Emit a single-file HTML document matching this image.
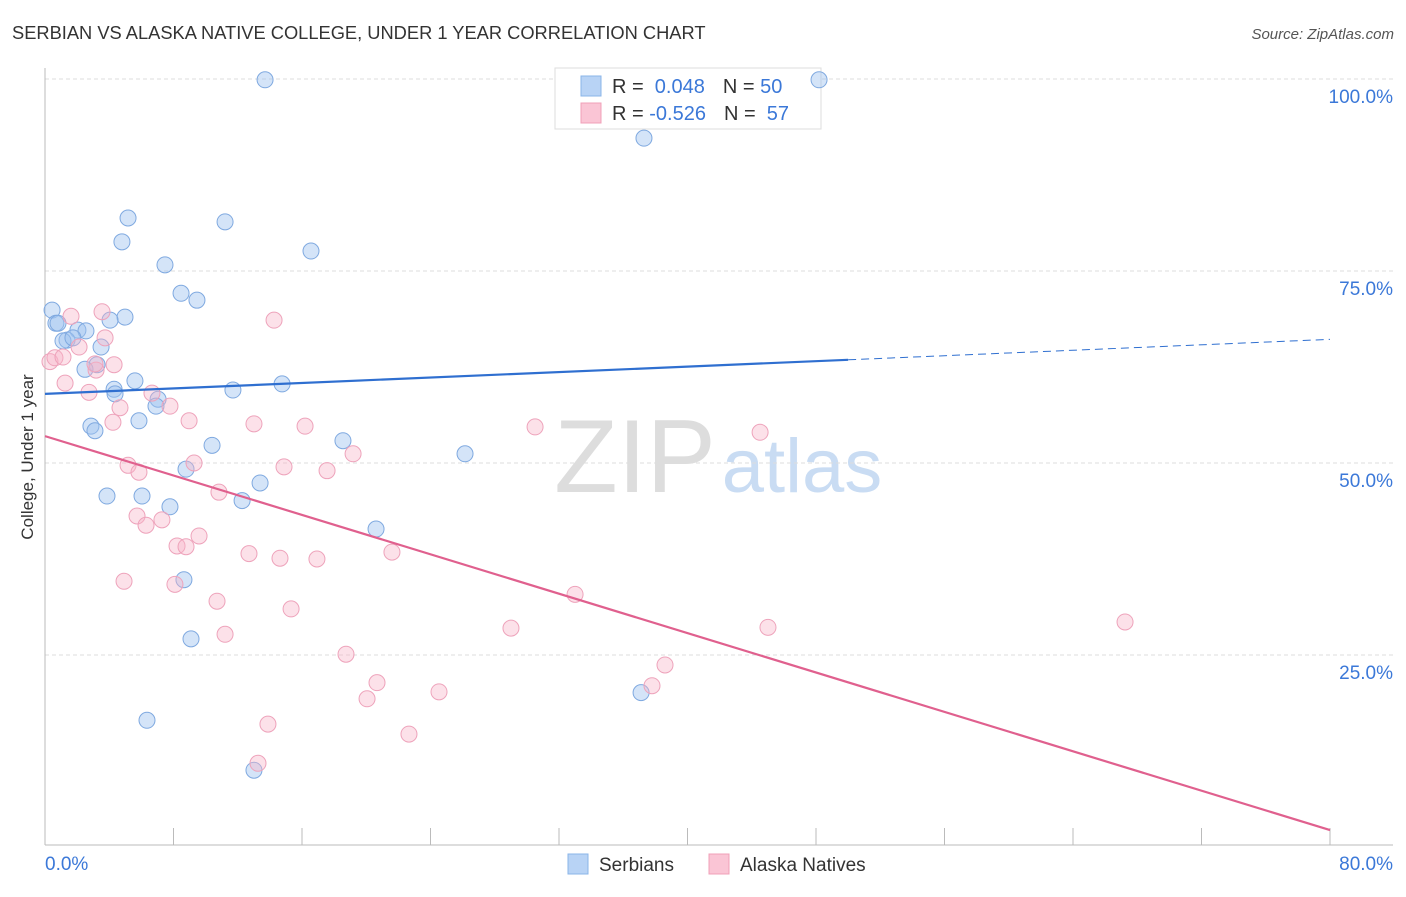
<!DOCTYPE html>
<html><head><meta charset="utf-8"><style>
body{margin:0;background:#fff;font-family:"Liberation Sans",sans-serif;}
svg text{font-family:"Liberation Sans",sans-serif;}
</style></head><body>
<svg id="chart" width="1406" height="892" xmlns="http://www.w3.org/2000/svg">
<text x="12" y="39" font-size="18.3" fill="#333">SERBIAN VS ALASKA NATIVE COLLEGE, UNDER 1 YEAR CORRELATION CHART</text>
<text x="1394" y="39" font-size="15" fill="#555" text-anchor="end" font-style="italic">Source: ZipAtlas.com</text>
<text x="33" y="457" font-size="17" fill="#333" text-anchor="middle" transform="rotate(-90 33 457)">College, Under 1 year</text>
<g><text x="635" y="492" font-size="104" fill="#ddd" font-family="Liberation Serif" text-anchor="middle">ZIP</text><text x="802" y="492" font-size="76" fill="#c9dcf3" text-anchor="middle">atlas</text></g>
<g id="grid"></g><g id="axes"></g>
<g>
<rect x="555" y="68" width="266" height="61" fill="#fff" stroke="#ddd"/>
<rect x="581" y="76" width="20" height="20" fill="#b8d3f5" stroke="#8ab4e8"/>
<rect x="581" y="103" width="20" height="20" fill="#fac5d5" stroke="#f0a0b8"/>
<text x="612" y="93" font-size="20" fill="#333">R = <tspan fill="#3b78d8">&#160;0.048</tspan><tspan dx="18">N = </tspan><tspan fill="#3b78d8">50</tspan></text>
<text x="612" y="120" font-size="20" fill="#333">R = <tspan fill="#3b78d8">-0.526</tspan><tspan dx="18">N = </tspan><tspan fill="#3b78d8">&#160;57</tspan></text>
</g>
<g id="marks"></g>
<g>
<rect x="568" y="854" width="20" height="20" fill="#b8d3f5" stroke="#8ab4e8"/>
<text x="599" y="871" font-size="19" fill="#333">Serbians</text>
<rect x="709" y="854" width="20" height="20" fill="#fac5d5" stroke="#f0a0b8"/>
<text x="740" y="871" font-size="19" fill="#333">Alaska Natives</text>
</g>
</svg>
<script>
const blueX=[13.70,48.19,37.29,5.17,11.21,4.79,16.56,7.47,8.47,9.46,0.44,4.98,4.05,0.68,2.05,2.55,1.37,1.12,3.49,3.24,2.49,5.60,14.76,4.30,4.36,11.70,7.04,6.91,5.85,2.86,3.11,18.55,10.40,26.15,8.78,13.39,3.86,6.04,7.78,12.27,20.61,8.65,9.09,37.11,6.35,13.01,0.81,1.74];
const blueY=[99.9,99.9,92.3,81.9,81.4,78.8,77.6,75.8,72.1,71.2,69.9,69.0,68.6,68.2,67.3,67.2,66.0,65.9,65.1,62.8,62.2,60.7,60.3,59.6,59.0,59.5,58.3,57.4,55.5,54.8,54.2,52.9,52.3,51.2,49.2,47.4,45.7,45.7,44.3,45.1,41.4,34.8,27.1,20.1,16.5,10.0,68.2,66.3];
const pinkX=[0.31,0.62,1.62,3.55,2.12,1.25,3.18,3.74,2.74,4.30,14.26,4.67,6.66,7.78,4.23,8.97,13.01,16.19,30.51,44.52,19.18,5.17,5.85,9.28,14.88,17.56,10.83,5.73,7.28,6.29,9.59,8.22,8.78,12.70,14.63,16.93,21.60,4.92,8.09,10.71,15.32,33.00,29.01,45.01,67.24,11.21,18.74,38.60,37.79,20.67,24.53,20.05,13.88,22.66,13.26,1.12,3.11];
const pinkY=[63.2,63.7,69.1,69.7,65.1,60.4,62.1,66.3,59.2,62.8,68.6,57.2,59.1,57.4,55.3,55.5,55.1,54.8,54.7,54.0,51.2,49.7,48.8,50.0,49.5,49.0,46.2,43.1,42.6,41.9,40.5,39.2,39.1,38.2,37.6,37.5,38.4,34.6,34.2,32.0,31.0,32.9,28.5,28.6,29.3,27.7,25.1,23.7,21.0,21.4,20.2,19.3,16.0,14.7,10.9,63.8,62.9];
const blueTrend=[59.0,66.1], blueSolidEnd=50;
const pinkTrend=[53.5,2.2];
const yTicks=[25,50,75,100];
const yTickLabels=["25.0%","50.0%","75.0%","100.0%"];
const xTicks=[0,8,16,24,32,40,48,56,64,72,80];
const NS="http://www.w3.org/2000/svg";
const sx=v=>45+v/80*1285, sy=v=>847-v*7.68;
function mk(tag,attrs,parent){const e=document.createElementNS(NS,tag);for(const k in attrs)e.setAttribute(k,attrs[k]);document.getElementById(parent).appendChild(e);return e;}
yTicks.forEach((t,i)=>{
 const g=mk('line',{x1:45,x2:1393,y1:sy(t),y2:sy(t),stroke:'#ddd','stroke-dasharray':'4,3'},'grid');
 
 
 const l=mk('text',{x:1393,y:sy(t)+24,'font-size':19,fill:'#3b78d8','text-anchor':'end'},'grid');l.textContent=yTickLabels[i];
 
 
});
const ya=mk('line',{x1:45,x2:45,y1:68,y2:845,stroke:'#bbb'},'axes');


const xa=mk('line',{x1:45,x2:1393,y1:845,y2:845,stroke:'#bbb'},'axes');


xTicks.forEach(t=>{const k=mk('line',{x1:sx(t),x2:sx(t),y1:828,y2:845,stroke:'#bbb'},'axes');
 
 });
const x0=mk('text',{x:45,y:870,'font-size':19,fill:'#3b78d8'},'axes');x0.textContent='0.0%';


const x1=mk('text',{x:1393,y:870,'font-size':19,fill:'#3b78d8','text-anchor':'end'},'axes');x1.textContent='80.0%';


blueX.forEach((x,i)=>{const c=mk('circle',{cx:sx(x),cy:sy(blueY[i]),r:8,fill:'rgba(160,196,240,0.45)',stroke:'#7fa9e0','stroke-width':1},'marks');
 
 });
pinkX.forEach((x,i)=>{const c=mk('circle',{cx:sx(x),cy:sy(pinkY[i]),r:8,fill:'rgba(248,180,200,0.4)',stroke:'#eea3bb','stroke-width':1},'marks');
 
 });
const bAt=x=>blueTrend[0]+(blueTrend[1]-blueTrend[0])*x/80;
const bl=mk('line',{x1:sx(0),y1:sy(bAt(0)),x2:sx(blueSolidEnd),y2:sy(bAt(blueSolidEnd)),stroke:'#2f6fd0','stroke-width':2.2},'marks');


const bd=mk('line',{x1:sx(blueSolidEnd),y1:sy(bAt(blueSolidEnd)),x2:sx(80),y2:sy(bAt(80)),stroke:'#2f6fd0','stroke-width':1,'stroke-dasharray':'8,5'},'marks');


const pl=mk('line',{x1:sx(0),y1:sy(pinkTrend[0]),x2:sx(80),y2:sy(pinkTrend[1]),stroke:'#e0608e','stroke-width':2.2},'marks');


</script>
</body></html>
